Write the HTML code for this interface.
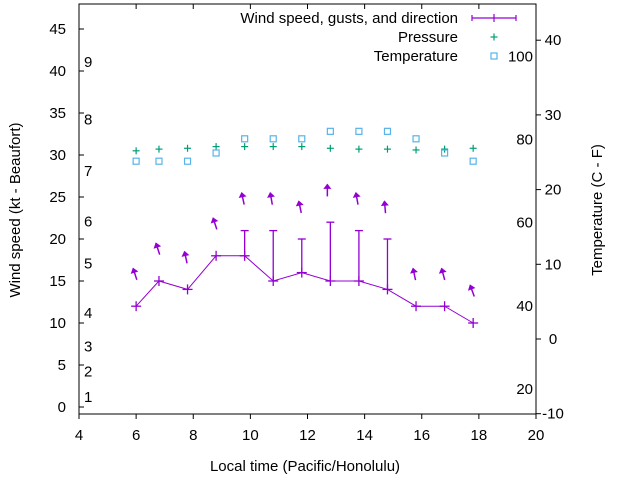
<!DOCTYPE html>
<html><head><meta charset="utf-8"><style>
html,body{margin:0;padding:0;background:#fff;}
svg{display:block;font-family:"Liberation Sans",sans-serif;}
</style></head><body>
<svg id="chart" width="640" height="480" viewBox="0 0 640 480" xmlns="http://www.w3.org/2000/svg"></svg>
<script>
const hours = [6.0,6.8,7.8,8.8,9.8,10.8,11.8,12.8,13.8,14.8,15.8,16.8,17.8];
const windSpeed = [12,15,14,18,18,15,16,15,15,14,12,12,10];
const gusts = [12,15,14,18,21,21,20,22,21,20,12,12,10];
const arrowLevel = [16.5,19.5,18.5,22.5,25.5,25.5,24.5,26.5,25.5,24.5,16.5,16.5,14.5];
const arrowDir = [18,18,12,18,12,10,12,0,10,5,12,15,20];
const pressure = [30.5,30.7,30.8,31.0,31.0,31.0,31.0,30.8,30.7,30.7,30.6,30.7,30.8];
const temperature = [23.8,23.8,23.8,24.9,26.8,26.8,26.8,27.8,27.8,27.8,26.8,24.9,23.8];
const xTicks = [4,6,8,10,12,14,16,18,20];
const yTicks = [0,5,10,15,20,25,30,35,40,45];
const y2Ticks = [-10,0,10,20,30,40];
const beaufortLabels = [[1,1.2],[2,4.2],[3,7.2],[4,11.2],[5,17.1],[6,22.1],[7,28.1],[8,34.2],[9,41.1]];
const fahrLabels = [[20,-6.7],[40,4.4],[60,15.6],[80,26.7],[100,37.8]];

const L=79,R=536,T=4,B=414;
const sx=v=>L+(v-4)*(R-L)/16;
const sy=v=>407-v*8.4;
const sy2=v=>339-v*7.47;
const svg=document.getElementById('chart');
const NS='http://www.w3.org/2000/svg';
function mk(tag,attrs,parent){const e=document.createElementNS(NS,tag);for(const k in attrs)e.setAttribute(k,attrs[k]);(parent||svg).appendChild(e);return e;}
function txt(s,x,y,anchor,extra){const e=mk('text',Object.assign({x:x,y:y,'font-size':'15','text-anchor':anchor||'start',fill:'#000'},extra||{}));e.textContent=s;return e;}

// frame
const frame=mk('rect',{x:L,y:T,width:R-L,height:B-T,fill:'none',stroke:'#000','stroke-width':1});



xTicks.forEach(v=>{
  const x=sx(v);
  mk('line',{x1:x,y1:B,x2:x,y2:B+5,stroke:'#000'});
  mk('line',{x1:x,y1:T,x2:x,y2:T+5,stroke:'#000'});
  const t=txt(String(v),x,440,'middle');
  
  
});
yTicks.forEach(v=>{
  const y=sy(v);
  mk('line',{x1:L,y1:y,x2:L+5,y2:y,stroke:'#000'});
  const t=txt(String(v),66,y+5,'end');
  
  
});
y2Ticks.forEach(v=>{
  const y=sy2(v);
  mk('line',{x1:R,y1:y,x2:R+5,y2:y,stroke:'#000'});
  const t=txt(String(v),553,y+5,'middle');
  
  
});
beaufortLabels.forEach(([lab,v])=>{
  const t=txt(String(lab),84,sy(v)+5,'start');
  
  
});
fahrLabels.forEach(([lab,v])=>{
  const t=txt(String(lab),533,sy2(v)+5,'end');
  
  
});

// axis titles
let t=txt('Local time (Pacific/Honolulu)',305,471,'middle');


t=txt('Wind speed (kt - Beaufort)',0,0,'middle',{transform:'translate(20,210) rotate(-90)'});


t=txt('Temperature (C - F)',0,0,'middle',{transform:'translate(602,210) rotate(-90)'});



const purple='#9400d3',green='#009e73',blue='#56b4e9';
// wind line
const pts=hours.map((h,i)=>sx(h)+','+sy(windSpeed[i])).join(' ');
const line=mk('polyline',{points:pts,fill:'none',stroke:purple,'stroke-width':1});


hours.forEach((h,i)=>{
  const x=sx(h),y=sy(windSpeed[i]);
  const g=mk('g',{stroke:purple,'stroke-width':1.3});
  
  
  mk('line',{x1:x-5,y1:y,x2:x+5,y2:y},g);
  mk('line',{x1:x,y1:y-5,x2:x,y2:y+5},g);
  if(gusts[i]>windSpeed[i]){
    const gy=sy(gusts[i]);
    mk('line',{x1:x,y1:y,x2:x,y2:gy},g);
    mk('line',{x1:x-4,y1:gy,x2:x+4,y2:gy},g);
  }
  // arrow
  const a=arrowDir[i]*Math.PI/180, len=12;
  const hx=x-3+0, hy=sy(arrowLevel[i]);
  const tx=hx+Math.sin(a)*len, ty=hy+Math.cos(a)*len;
  const ag=mk('g',{stroke:purple,fill:purple,'stroke-width':1.5});
  
  
  mk('line',{x1:tx,y1:ty,x2:hx,y2:hy},ag);
  const px=-Math.cos(a),py=Math.sin(a);
  const bx=hx+Math.sin(a)*4,by=hy+Math.cos(a)*4;
  mk('polygon',{points:`${hx},${hy} ${bx+px*3},${by+py*3} ${bx-px*3},${by-py*3}`,'stroke-width':1},ag);
});
// pressure
hours.forEach((h,i)=>{
  const x=sx(h),y=sy(pressure[i]);
  const g=mk('g',{stroke:green,'stroke-width':1.2});
  
  
  mk('line',{x1:x-3.5,y1:y,x2:x+3.5,y2:y},g);
  mk('line',{x1:x,y1:y-3.5,x2:x,y2:y+3.5},g);
});
// temperature
hours.forEach((h,i)=>{
  const x=sx(h),y=sy2(temperature[i]);
  const r=mk('rect',{x:x-3,y:y-3,width:6,height:6,fill:'none',stroke:blue,'stroke-width':1.2});
  
  
});

// legend
const lg=mk('g',{});


const leg=[['Wind speed, gusts, and direction',23],['Pressure',42],['Temperature',61]];
leg.forEach(([s,y])=>{
  const e=txt(s,458,y,'end');
  lg.appendChild(e);
  
  
});
const ls=mk('g',{stroke:purple,'stroke-width':1.2},lg);
mk('line',{x1:472,y1:18,x2:516,y2:18},ls);
mk('line',{x1:472,y1:15,x2:472,y2:21},ls);
mk('line',{x1:516,y1:15,x2:516,y2:21},ls);
mk('line',{x1:494,y1:14,x2:494,y2:22},ls);
const ps=mk('g',{stroke:green,'stroke-width':1.2},lg);
mk('line',{x1:490.5,y1:37,x2:497.5,y2:37},ps);
mk('line',{x1:494,y1:33.5,x2:494,y2:40.5},ps);
mk('rect',{x:491,y:53,width:6,height:6,fill:'none',stroke:blue,'stroke-width':1.2},lg);
</script>
</body></html>
